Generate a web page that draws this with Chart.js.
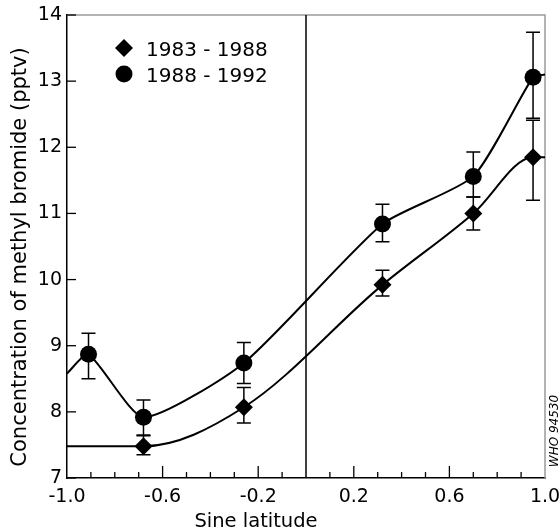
<!DOCTYPE html>
<html><head><meta charset="utf-8">
<script src="https://cdn.jsdelivr.net/npm/chart.js@4.4.0/dist/chart.umd.min.js"></script>
<style>html,body{margin:0;padding:0;background:#fff;}#wrap{width:559px;height:532px;}</style>
</head><body><div id="wrap"><canvas id="c" width="559" height="532"></canvas></div>
<script>
// ---- data ----
const seriesNames = ['1983 - 1988', '1988 - 1992'];
// 1988 - 1992 (circles)
const lat8892 = [-0.91, -0.68, -0.26, 0.32, 0.70, 0.95];
const conc8892 = [8.87, 7.92, 8.74, 10.84, 11.56, 13.06];
const low8892 = [8.50, 7.65, 8.43, 10.57, 11.25, 12.44];
const high8892 = [9.19, 8.18, 9.05, 11.14, 11.93, 13.74];
// 1983 - 1988 (diamonds)
const lat8388 = [-0.68, -0.26, 0.32, 0.70, 0.95];
const conc8388 = [7.48, 8.07, 9.92, 11.00, 11.85];
const low8388 = [7.35, 7.83, 9.75, 10.75, 11.20];
const high8388 = [7.64, 8.37, 10.14, 11.25, 12.41];
// fitted curves run to the plot edges
const curveEdgeLat = [-1.0, 1.0];
const curveEdge8892 = [8.58, 13.10];
const curveEdge8388 = [7.48, 11.85];
// axes
const yTicks = [7, 8, 9, 10, 11, 12, 13, 14];
const xLabelTicks = [-1.0, -0.6, -0.2, 0.2, 0.6, 1.0];
const yTitle = 'Concentration of methyl bromide (pptv)';
const xTitle = 'Sine latitude';
const figureId = 'WHO 94530';

const FONT = "'DejaVu Sans', sans-serif";
Chart.defaults.font.family = FONT;
Chart.defaults.font.size = 19;
Chart.defaults.color = '#000';

function pts(xs, ys) { return xs.map((x, i) => ({x: x, y: ys[i]})); }
function curve(xs, ys, edges) {
  return [{x: curveEdgeLat[0], y: edges[0]}].concat(pts(xs, ys), [{x: curveEdgeLat[1], y: edges[1]}]);
}

const extras = {
  id: 'extras',
  beforeDatasetsDraw(chart) {
    const {ctx, chartArea: a, scales: {x, y}} = chart;
    ctx.save();
    // top & right frame (grey)
    ctx.strokeStyle = '#9a9a9a'; ctx.lineWidth = 1.5;
    ctx.beginPath();
    ctx.moveTo(a.left, a.top); ctx.lineTo(a.right, a.top); ctx.lineTo(a.right, a.bottom);
    ctx.stroke();
    // zero line
    ctx.strokeStyle = '#000'; ctx.lineWidth = 1.5;
    const x0 = x.getPixelForValue(0);
    ctx.beginPath(); ctx.moveTo(x0, a.top); ctx.lineTo(x0, a.bottom); ctx.stroke();
    // inward tick marks
    ctx.lineWidth = 1.3;
    y.ticks.forEach(t => {
      const py = y.getPixelForValue(t.value);
      ctx.beginPath(); ctx.moveTo(a.left, py); ctx.lineTo(a.left + 9, py); ctx.stroke();
    });
    x.ticks.forEach(t => {
      const k = Math.round(t.value * 10);
      if (k === -10 || k === 10 || k === 0) return;
      const len = ((k + 10) % 4 === 0) ? 12 : 6;
      const px = x.getPixelForValue(t.value);
      ctx.beginPath(); ctx.moveTo(px, a.bottom); ctx.lineTo(px, a.bottom - len); ctx.stroke();
    });
    // error bars
    const bars = [[lat8892, low8892, high8892], [lat8388, low8388, high8388]];
    ctx.lineWidth = 1.5;
    bars.forEach(([xs, lo, hi]) => {
      xs.forEach((v, i) => {
        const px = x.getPixelForValue(v);
        const pl = y.getPixelForValue(lo[i]);
        const ph = y.getPixelForValue(hi[i]);
        ctx.beginPath();
        ctx.moveTo(px, pl); ctx.lineTo(px, ph);
        ctx.moveTo(px - 7, pl); ctx.lineTo(px + 7, pl);
        ctx.moveTo(px - 7, ph); ctx.lineTo(px + 7, ph);
        ctx.stroke();
      });
    });
    ctx.restore();
  },
  afterDraw(chart) {
    const {ctx, chartArea: a} = chart;
    ctx.save();
    ctx.fillStyle = '#000';
    // legend
    const lx = 124;
    ctx.beginPath();
    ctx.moveTo(lx, 48 - 9); ctx.lineTo(lx + 9, 48); ctx.lineTo(lx, 48 + 9); ctx.lineTo(lx - 9, 48);
    ctx.closePath(); ctx.fill();
    ctx.beginPath(); ctx.arc(lx, 74, 8.5, 0, Math.PI * 2); ctx.fill();
    ctx.font = '20px ' + FONT;
    ctx.textBaseline = 'alphabetic'; ctx.textAlign = 'left';
    ctx.fillText(seriesNames[0], 146, 55.5);
    ctx.fillText(seriesNames[1], 146, 81.5);
    // axis titles
    ctx.textAlign = 'center';
    ctx.font = '19.5px ' + FONT;
    ctx.fillText(xTitle, 256, 527);
    ctx.save();
    ctx.translate(26, 257);
    ctx.rotate(-Math.PI / 2);
    ctx.font = '21px ' + FONT;
    ctx.fillText(yTitle, 0, 0);
    ctx.restore();
    // figure id
    ctx.save();
    ctx.translate(558, 431);
    ctx.rotate(-Math.PI / 2);
    ctx.font = 'italic 12px ' + FONT;
    ctx.fillText(figureId, 0, 0);
    ctx.restore();
    ctx.restore();
  }
};

new Chart(document.getElementById('c'), {
  type: 'scatter',
  data: {
    datasets: [
      {label: seriesNames[1], data: pts(lat8892, conc8892), showLine: false,
       pointStyle: 'circle', pointRadius: 8.5, backgroundColor: '#000', borderColor: '#000', borderWidth: 0},
      {label: seriesNames[0], data: pts(lat8388, conc8388), showLine: false,
       pointStyle: 'rectRot', pointRadius: 9, backgroundColor: '#000', borderColor: '#000', borderWidth: 0},
      {label: 'fit ' + seriesNames[1], data: curve(lat8892, conc8892, curveEdge8892), showLine: true,
       pointRadius: 0, borderColor: '#000', borderWidth: 2, tension: 0.2, fill: false},
      {label: 'fit ' + seriesNames[0], data: curve(lat8388, conc8388, curveEdge8388), showLine: true,
       pointRadius: 0, borderColor: '#000', borderWidth: 2, cubicInterpolationMode: 'monotone', fill: false}
    ]
  },
  options: {
    responsive: false, animation: false, devicePixelRatio: 1,
    layout: {padding: {left: 0, top: 15, right: 14, bottom: 0}},
    plugins: {legend: {display: false}, tooltip: {enabled: false}},
    scales: {
      x: {
        type: 'linear', min: -1, max: 1,
        grid: {display: false, drawTicks: false},
        border: {display: true, color: '#000', width: 1.5},
        ticks: {stepSize: 0.1, autoSkip: false, maxRotation: 0, minRotation: 0, padding: 8,
          callback: (v) => {
            const k = Math.round(v * 10);
            return xLabelTicks.some(t => Math.round(t * 10) === k) ? (k / 10).toFixed(1) : '';
          }},
        afterFit: (s) => { s.height = 54; s.paddingLeft = 0; s.paddingRight = 0; }
      },
      y: {
        min: yTicks[0], max: yTicks[yTicks.length - 1],
        grid: {display: false, drawTicks: false},
        border: {display: true, color: '#000', width: 1.5},
        ticks: {stepSize: 1, padding: 5, callback: (v) => String(v)},
        afterFit: (s) => { s.width = 67; s.paddingTop = 0; s.paddingBottom = 0; }
      }
    }
  },
  plugins: [extras]
});
</script></body></html>
